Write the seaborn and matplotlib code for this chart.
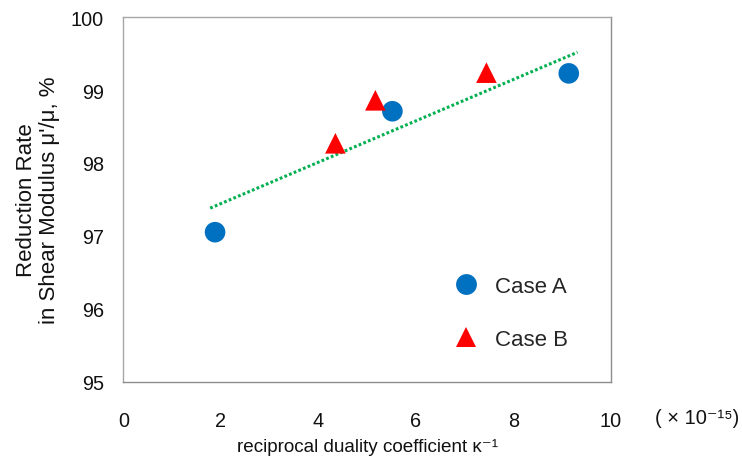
import matplotlib
matplotlib.use("Agg")
import matplotlib.pyplot as plt
import seaborn as sns
import pandas as pd

# Data
case_a_x = [1.88, 5.52, 9.14]
case_a_y = [97.05, 98.71, 99.23]
case_b_x = [4.35, 5.17, 7.45]
case_b_y = [98.27, 98.86, 99.24]
trend_x = [1.78, 9.32]
trend_y = [97.38, 99.52]
x_ticks = [0, 2, 4, 6, 8, 10]
y_ticks = [95, 96, 97, 98, 99, 100]
series_names = ["Case A", "Case B"]

sns.set_style("white")
plt.rcParams["font.family"] = ["Liberation Sans", "DejaVu Sans"]

df = pd.DataFrame({
    "x": case_a_x + case_b_x,
    "y": case_a_y + case_b_y,
    "case": [series_names[0]] * len(case_a_x) + [series_names[1]] * len(case_b_x),
})

fig = plt.figure(figsize=(7.42, 4.64), dpi=100)
ax = fig.add_axes([0.1664, 0.1756, 0.6566, 0.7850])

ax.plot(trend_x, trend_y, color="#00b050", linewidth=2.2,
        linestyle=(0, (0.9, 0.75)), zorder=2)

sns.scatterplot(data=df, x="x", y="y", hue="case", style="case",
                palette={"Case A": "#0070c0", "Case B": "#ff0000"},
                markers={"Case A": "o", "Case B": "^"},
                s=220, linewidth=0, ax=ax, zorder=3, legend=True)

ax.set_xlim(0, 10)
ax.set_ylim(95, 100)
ax.set_xticks(x_ticks)
ax.set_yticks(y_ticks)
ax.set_xticklabels([str(t) for t in x_ticks])
ax.set_yticklabels([str(t) for t in y_ticks])

for side, sp in ax.spines.items():
    sp.set_visible(True)
    sp.set_color("#a6a6a6" if side in ("left", "top") else "#8c8c8c")
    sp.set_linewidth(1.0)

ax.tick_params(axis="both", direction="in", length=5, width=0.8,
               color="#8c8c8c", labelsize=14.3, labelcolor="#111111")
ax.tick_params(axis="x", pad=21)
ax.tick_params(axis="y", pad=14)

ax.set_xlabel("reciprocal duality coefficient κ⁻¹", fontsize=13.6,
              color="#111111", labelpad=6)
ax.set_ylabel("Reduction Rate\nin Shear Modulus μ'/μ, %", fontsize=16,
              color="#111111", labelpad=8, linespacing=1.1)

fig.text(0.939, 0.098, "( × 10⁻¹⁵)", fontsize=14.5, color="#111111",
         ha="center", va="center")

leg = ax.legend(loc="upper left", bbox_to_anchor=(0.64, 0.315), frameon=False,
                fontsize=16, labelspacing=1.45, handletextpad=0.3,
                markerscale=1.0, borderaxespad=0)
for h in leg.legend_handles:
    h.set_markersize(15)

fig.savefig("out.png", dpi=100)
